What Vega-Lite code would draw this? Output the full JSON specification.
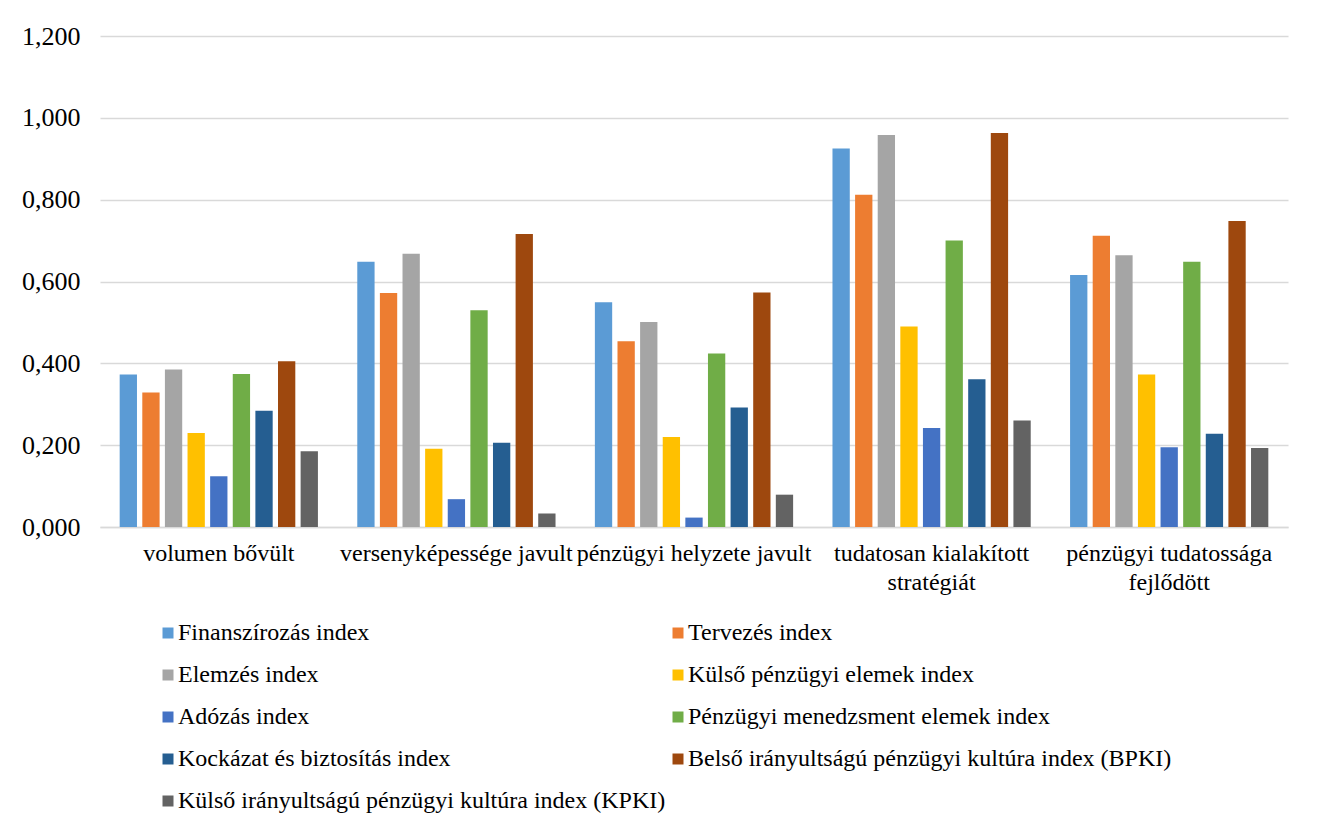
{
  "$schema": "https://vega.github.io/schema/vega-lite/v6.json",
  "width": 1188,
  "height": 491,
  "autosize": {"type": "none"},
  "padding": {"left": 100, "top": 36, "right": 33, "bottom": 305},
  "background": "white",
  "data": {
    "values": [
      {"group": "volumen bővült", "series": "Finanszírozás index", "value": 0.373},
      {"group": "volumen bővült", "series": "Tervezés index", "value": 0.329},
      {"group": "volumen bővült", "series": "Elemzés index", "value": 0.385},
      {"group": "volumen bővült", "series": "Külső pénzügyi elemek index", "value": 0.230},
      {"group": "volumen bővült", "series": "Adózás index", "value": 0.124},
      {"group": "volumen bővült", "series": "Pénzügyi menedzsment elemek index", "value": 0.374},
      {"group": "volumen bővült", "series": "Kockázat és biztosítás index", "value": 0.284},
      {"group": "volumen bővült", "series": "Belső irányultságú pénzügyi kultúra index (BPKI)", "value": 0.405},
      {"group": "volumen bővült", "series": "Külső irányultságú pénzügyi kultúra index (KPKI)", "value": 0.185},
      {"group": "versenyképessége javult", "series": "Finanszírozás index", "value": 0.648},
      {"group": "versenyképessége javult", "series": "Tervezés index", "value": 0.572},
      {"group": "versenyképessége javult", "series": "Elemzés index", "value": 0.668},
      {"group": "versenyképessége javult", "series": "Külső pénzügyi elemek index", "value": 0.191},
      {"group": "versenyképessége javult", "series": "Adózás index", "value": 0.068},
      {"group": "versenyképessége javult", "series": "Pénzügyi menedzsment elemek index", "value": 0.530},
      {"group": "versenyképessége javult", "series": "Kockázat és biztosítás index", "value": 0.206},
      {"group": "versenyképessége javult", "series": "Belső irányultságú pénzügyi kultúra index (BPKI)", "value": 0.716},
      {"group": "versenyképessége javult", "series": "Külső irányultságú pénzügyi kultúra index (KPKI)", "value": 0.033},
      {"group": "pénzügyi helyzete javult", "series": "Finanszírozás index", "value": 0.549},
      {"group": "pénzügyi helyzete javult", "series": "Tervezés index", "value": 0.454},
      {"group": "pénzügyi helyzete javult", "series": "Elemzés index", "value": 0.501},
      {"group": "pénzügyi helyzete javult", "series": "Külső pénzügyi elemek index", "value": 0.220},
      {"group": "pénzügyi helyzete javult", "series": "Adózás index", "value": 0.023},
      {"group": "pénzügyi helyzete javult", "series": "Pénzügyi menedzsment elemek index", "value": 0.424},
      {"group": "pénzügyi helyzete javult", "series": "Kockázat és biztosítás index", "value": 0.292},
      {"group": "pénzügyi helyzete javult", "series": "Belső irányultságú pénzügyi kultúra index (BPKI)", "value": 0.573},
      {"group": "pénzügyi helyzete javult", "series": "Külső irányultságú pénzügyi kultúra index (KPKI)", "value": 0.079},
      {"group": "tudatosan kialakított stratégiát", "series": "Finanszírozás index", "value": 0.925},
      {"group": "tudatosan kialakított stratégiát", "series": "Tervezés index", "value": 0.812},
      {"group": "tudatosan kialakított stratégiát", "series": "Elemzés index", "value": 0.958},
      {"group": "tudatosan kialakított stratégiát", "series": "Külső pénzügyi elemek index", "value": 0.490},
      {"group": "tudatosan kialakított stratégiát", "series": "Adózás index", "value": 0.242},
      {"group": "tudatosan kialakított stratégiát", "series": "Pénzügyi menedzsment elemek index", "value": 0.700},
      {"group": "tudatosan kialakított stratégiát", "series": "Kockázat és biztosítás index", "value": 0.361},
      {"group": "tudatosan kialakított stratégiát", "series": "Belső irányultságú pénzügyi kultúra index (BPKI)", "value": 0.963},
      {"group": "tudatosan kialakított stratégiát", "series": "Külső irányultságú pénzügyi kultúra index (KPKI)", "value": 0.260},
      {"group": "pénzügyi tudatossága fejlődött", "series": "Finanszírozás index", "value": 0.616},
      {"group": "pénzügyi tudatossága fejlődött", "series": "Tervezés index", "value": 0.712},
      {"group": "pénzügyi tudatossága fejlődött", "series": "Elemzés index", "value": 0.664},
      {"group": "pénzügyi tudatossága fejlődött", "series": "Külső pénzügyi elemek index", "value": 0.373},
      {"group": "pénzügyi tudatossága fejlődött", "series": "Adózás index", "value": 0.195},
      {"group": "pénzügyi tudatossága fejlődött", "series": "Pénzügyi menedzsment elemek index", "value": 0.648},
      {"group": "pénzügyi tudatossága fejlődött", "series": "Kockázat és biztosítás index", "value": 0.228},
      {"group": "pénzügyi tudatossága fejlődött", "series": "Belső irányultságú pénzügyi kultúra index (BPKI)", "value": 0.748},
      {"group": "pénzügyi tudatossága fejlődött", "series": "Külső irányultságú pénzügyi kultúra index (KPKI)", "value": 0.193}
    ]
  },
  "mark": {"type": "bar"},
  "encoding": {
    "x": {
      "field": "group",
      "type": "nominal",
      "sort": ["volumen bővült", "versenyképessége javult", "pénzügyi helyzete javult", "tudatosan kialakított stratégiát", "pénzügyi tudatossága fejlődött"],
      "scale": {"paddingInner": 0, "paddingOuter": 0},
      "axis": {
        "title": null,
        "labelAngle": 0,
        "labelFont": "Liberation Serif",
        "labelFontSize": 24,
        "labelColor": "#000000",
        "labelPadding": 14,
        "labelLimit": 400,
        "labelLineHeight": 29,
        "ticks": false,
        "domain": true,
        "domainColor": "#D9D9D9",
        "domainWidth": 1.5,
        "grid": false,
        "labelExpr": "datum.label == 'tudatosan kialakított stratégiát' ? ['tudatosan kialakított', 'stratégiát'] : datum.label == 'pénzügyi tudatossága fejlődött' ? ['pénzügyi tudatossága', 'fejlődött'] : datum.label"
      }
    },
    "xOffset": {
      "field": "series",
      "type": "nominal",
      "sort": ["Finanszírozás index", "Tervezés index", "Elemzés index", "Külső pénzügyi elemek index", "Adózás index", "Pénzügyi menedzsment elemek index", "Kockázat és biztosítás index", "Belső irányultságú pénzügyi kultúra index (BPKI)", "Külső irányultságú pénzügyi kultúra index (KPKI)"],
      "scale": {"paddingInner": 0.235, "paddingOuter": 0.87}
    },
    "y": {
      "field": "value",
      "type": "quantitative",
      "scale": {"domain": [0, 1.2], "nice": false},
      "axis": {
        "title": null,
        "values": [0, 0.2, 0.4, 0.6, 0.8, 1.0, 1.2],
        "labelExpr": "replace(format(datum.value, '.3f'), '.', ',')",
        "labelFont": "Liberation Serif",
        "labelFontSize": 26,
        "labelColor": "#000000",
        "labelPadding": 20,
        "ticks": false,
        "domain": false,
        "grid": true,
        "gridColor": "#D9D9D9",
        "gridWidth": 1.5
      }
    },
    "color": {
      "field": "series",
      "type": "nominal",
      "scale": {
        "domain": ["Finanszírozás index", "Elemzés index", "Adózás index", "Kockázat és biztosítás index", "Külső irányultságú pénzügyi kultúra index (KPKI)", "Tervezés index", "Külső pénzügyi elemek index", "Pénzügyi menedzsment elemek index", "Belső irányultságú pénzügyi kultúra index (BPKI)"],
        "range": ["#5B9BD5", "#A5A5A5", "#4472C4", "#255E91", "#636363", "#ED7D31", "#FFC000", "#70AD47", "#9E480E"]
      },
      "legend": {
        "title": null,
        "orient": "none",
        "legendX": 56,
        "legendY": 585,
        "columns": 2,
        "columnPadding": -9,
        "rowPadding": 18,
        "padding": 0,
        "symbolType": "square",
        "symbolSize": 121,
        "symbolStrokeWidth": 0,
        "labelFont": "Liberation Serif",
        "labelFontSize": 24,
        "labelColor": "#000000",
        "labelOffset": -2,
        "labelLimit": 700
      }
    }
  },
  "config": {
    "font": "Liberation Serif",
    "view": {"stroke": null}
  }
}
